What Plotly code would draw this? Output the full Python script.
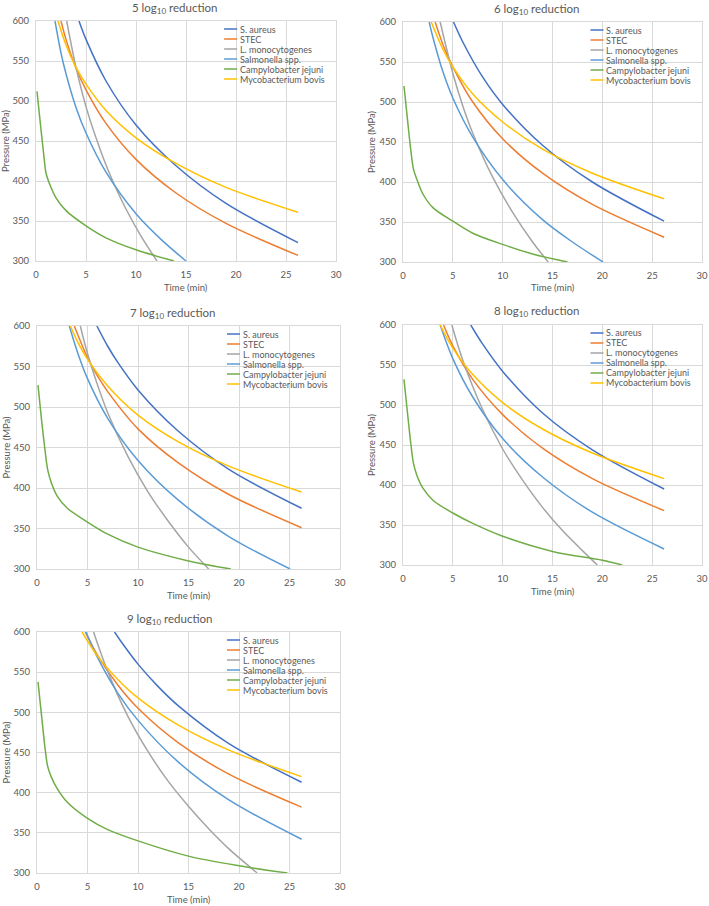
import plotly.graph_objects as go

# species names and Excel-ish colours
species = ["S. aureus", "STEC", "L. monocytogenes", "Salmonella spp.",
           "Campylobacter jejuni", "Mycobacterium bovis"]
colors = ["#4472C4", "#ED7D31", "#A5A5A5", "#5B9BD5", "#70AD47", "#FFC000"]
reductions = ["5", "6", "7", "8", "9"]

# ---- 5 log10 reduction: time (min) / pressure (MPa)
sa_t5 = [4.3, 5, 7, 10, 14, 19, 26.2]
sa_p5 = [600, 577, 525, 470, 419, 372, 323]
stec_t5 = [2.5, 3, 4, 5, 7, 10, 14, 19, 26.2]
stec_p5 = [600, 577, 541, 514, 472, 427, 385, 347, 307]
lm_t5 = [3.07, 4, 5, 6, 7, 8, 9, 10.5, 12.1]
lm_p5 = [600, 542, 493, 454, 420, 391, 365, 331, 300]
sal_t5 = [1.9, 2.5, 3, 4, 5, 7, 10, 12.5, 15]
sal_p5 = [600, 560, 534, 492, 460, 411, 359, 327, 300]
cj_t5 = [0.1, 0.45, 0.8, 1.0, 1.4, 2, 3, 5, 7, 10, 13.8]
cj_p5 = [512, 470, 430, 410, 395, 379, 363, 344, 329, 314, 300]
mb_t5 = [2.2, 3, 4, 5, 7, 10, 14, 19, 26.2]
mb_p5 = [600, 570, 542, 521, 488, 454, 422, 392, 361]

# ---- 6 log10 reduction
sa_t6 = [5.07, 6, 8, 10, 14, 19, 26.2]
sa_p6 = [600, 575, 531, 497, 446, 400, 351]
stec_t6 = [3.23, 4, 5, 7, 10, 14, 19, 26.2]
stec_p6 = [600, 572, 544, 500, 454, 411, 372, 331]
lm_t6 = [3.73, 5, 6, 7, 9, 11, 13, 14.57]
lm_p6 = [600, 536, 495, 461, 406, 362, 325, 300]
sal_t6 = [2.63, 3, 4, 5, 7, 10, 14, 17, 20.07]
sal_p6 = [600, 581, 538, 505, 456, 403, 353, 325, 300]
cj_t6 = [0.1, 0.45, 0.8, 1.05, 1.4, 2, 3, 5, 7, 10, 13, 16.5]
cj_p6 = [520, 478, 438, 416, 403, 385, 368, 351, 336, 322, 310, 300]
mb_t6 = [2.83, 4, 5, 7, 10, 14, 19, 26.2]
mb_p6 = [600, 566, 544, 510, 475, 441, 411, 379]

# ---- 7 log10 reduction
sa_t7 = [5.93, 7, 8, 10, 14, 19, 26.2]
sa_p7 = [600, 575, 555, 521, 470, 423, 375]
stec_t7 = [3.69, 5, 6, 7, 10, 14, 19, 26.2]
stec_p7 = [600, 561, 538, 519, 473, 431, 392, 351]
lm_t7 = [4.29, 5, 6, 7, 9, 11, 13, 15, 17]
lm_p7 = [600, 566, 527, 493, 439, 395, 359, 327, 300]
sal_t7 = [3.2, 4, 5, 7, 10, 14, 19, 25.06]
sal_p7 = [600, 568, 535, 486, 434, 385, 340, 300]
cj_t7 = [0.1, 0.45, 0.8, 1.05, 1.4, 2, 3, 5, 7, 10, 15, 19.2]
cj_p7 = [527, 484, 446, 423, 407, 390, 375, 358, 343, 327, 310, 300]
mb_t7 = [3.3, 4, 5, 7, 10, 14, 19, 26.2]
mb_p7 = [600, 581, 559, 526, 490, 457, 427, 395]

# ---- 8 log10 reduction
sa_t8 = [6.8, 8, 10, 14, 19, 26.2]
sa_p8 = [600, 576, 542, 490, 444, 395]
stec_t8 = [4.07, 5, 7, 10, 14, 19, 26.2]
stec_p8 = [600, 574, 532, 488, 446, 408, 368]
lm_t8 = [4.9, 6, 8, 10, 12, 14, 16, 18, 19.5]
lm_p8 = [600, 556, 494, 445, 406, 372, 343, 318, 300]
sal_t8 = [3.73, 5, 7, 10, 14, 19, 26.2]
sal_p8 = [600, 558, 510, 458, 410, 366, 320]
cj_t8 = [0.1, 0.45, 0.8, 1.05, 1.4, 2, 3, 5, 7, 10, 15, 20, 22]
cj_p8 = [532, 490, 450, 427, 412, 396, 381, 365, 352, 336, 317, 306, 300]
mb_t8 = [3.73, 5, 7, 10, 14, 19, 26.2]
mb_p8 = [600, 571, 538, 503, 470, 440, 408]

# ---- 9 log10 reduction
sa_t9 = [7.68, 8.5, 10, 12, 14, 19, 26.2]
sa_p9 = [600, 585, 560, 532, 508, 461, 413]
stec_t9 = [4.78, 6, 8, 10, 14, 19, 26.2]
stec_p9 = [600, 571, 534, 505, 462, 423, 382]
lm_t9 = [5.6, 7, 9, 11, 13, 15, 17, 19, 21.8]
lm_p9 = [600, 551, 495, 451, 414, 383, 355, 330, 300]
sal_t9 = [4.85, 6, 8, 10, 14, 19, 26.2]
sal_p9 = [600, 568, 524, 490, 438, 391, 342]
cj_t9 = [0.1, 0.45, 0.8, 1.05, 1.4, 2, 3, 5, 7, 10, 15, 20, 24.8]
cj_p9 = [538, 496, 455, 433, 420, 405, 388, 368, 354, 340, 321, 309, 300]
mb_t9 = [4.46, 6, 8, 10, 14, 19, 26.2]
mb_p9 = [600, 570, 541, 518, 484, 453, 420]

panels = [
    [(sa_t5, sa_p5), (stec_t5, stec_p5), (lm_t5, lm_p5), (sal_t5, sal_p5), (cj_t5, cj_p5), (mb_t5, mb_p5)],
    [(sa_t6, sa_p6), (stec_t6, stec_p6), (lm_t6, lm_p6), (sal_t6, sal_p6), (cj_t6, cj_p6), (mb_t6, mb_p6)],
    [(sa_t7, sa_p7), (stec_t7, stec_p7), (lm_t7, lm_p7), (sal_t7, sal_p7), (cj_t7, cj_p7), (mb_t7, mb_p7)],
    [(sa_t8, sa_p8), (stec_t8, stec_p8), (lm_t8, lm_p8), (sal_t8, sal_p8), (cj_t8, cj_p8), (mb_t8, mb_p8)],
    [(sa_t9, sa_p9), (stec_t9, stec_p9), (lm_t9, lm_p9), (sal_t9, sal_p9), (cj_t9, cj_p9), (mb_t9, mb_p9)],
]

W, H = 709, 906
FONT = "Lato"
GREY = "#595959"
GRID = "#d9d9d9"

boxes = [(36, 336, 21, 261), (403, 702, 22, 262),
         (37, 340, 326, 569), (403, 702, 325, 565),
         (37, 340, 632, 873)]
# title x-offsets (px) relative to plot centre
title_shift = [-11, -16, -16, -16, -19]

fig = go.Figure()
layout = dict(width=W, height=H, margin=dict(l=0, r=0, t=0, b=0),
              paper_bgcolor="white", plot_bgcolor="white",
              template="none", showlegend=False,
              font=dict(family=FONT, color=GREY, size=9))
annotations = []
shapes = []

for i, series in enumerate(panels):
    n = i + 1
    sfx = "" if n == 1 else str(n)
    xname, yname = "x" + sfx, "y" + sfx
    l, r, t, b = boxes[i]
    layout["xaxis" + sfx] = dict(
        domain=[l / W, r / W], anchor=yname, range=[0, 30], dtick=5, tick0=0,
        showgrid=True, gridcolor=GRID, gridwidth=1, zeroline=False,
        showline=True, linecolor=GRID, linewidth=1, mirror=True, ticks="",
        tickfont=dict(family=FONT, size=9.5, color=GREY), ticklabelstandoff=5)
    layout["yaxis" + sfx] = dict(
        domain=[1 - b / H, 1 - t / H], anchor=xname, range=[300, 600], dtick=50,
        tick0=300, showgrid=True, gridcolor=GRID, gridwidth=1, zeroline=False,
        showline=True, linecolor=GRID, linewidth=1, mirror=True, ticks="",
        tickfont=dict(family=FONT, size=9.5, color=GREY), ticklabelstandoff=4)

    for k, (tt, pp) in enumerate(series):
        fig.add_trace(go.Scatter(
            x=tt, y=pp, mode="lines", name=species[k],
            line=dict(color=colors[k], width=1.5, shape="spline", smoothing=0.9),
            xaxis=xname, yaxis=yname, showlegend=False))

    xdom, ydom = xname + " domain", yname + " domain"
    # chart title
    annotations.append(dict(
        text=reductions[i] + " log<sub>10</sub> reduction", xref=xdom, yref=ydom,
        x=0.5, y=1, xshift=title_shift[i], yshift=13, showarrow=False,
        xanchor="center", yanchor="middle",
        font=dict(family=FONT, size=11.5, color=GREY)))
    # axis titles
    annotations.append(dict(
        text="Time (min)", xref=xdom, yref=ydom, x=0.5, y=0, yshift=-26,
        showarrow=False, xanchor="center", yanchor="middle",
        font=dict(family=FONT, size=9.5, color=GREY)))
    annotations.append(dict(
        text="Pressure (MPa)", xref="paper", yref=ydom, x=(l - 31) / W, y=0.5,
        textangle=-90, showarrow=False, xanchor="center", yanchor="middle",
        font=dict(family=FONT, size=9.5, color=GREY)))
    # legend (compact, Excel style)
    for k, name in enumerate(species):
        dy = -(8 + 10 * k)
        shapes.append(dict(
            type="line", xref=xdom, yref=ydom, xsizemode="pixel", ysizemode="pixel",
            xanchor=0.627, yanchor=1, x0=0, x1=13, y0=dy, y1=dy,
            line=dict(color=colors[k], width=1.5)))
        annotations.append(dict(
            text=name, xref=xdom, yref=ydom, x=0.627, xshift=14, y=1, yshift=dy,
            showarrow=False, xanchor="left", yanchor="middle",
            font=dict(family=FONT, size=9, color=GREY)))

layout["annotations"] = annotations
layout["shapes"] = shapes
fig.update_layout(**layout)

# the page's default body margin would push the figure 8px off the window
fig.write_html("out.html", config={"displayModeBar": False},
               post_script="document.body.style.margin='0';")
